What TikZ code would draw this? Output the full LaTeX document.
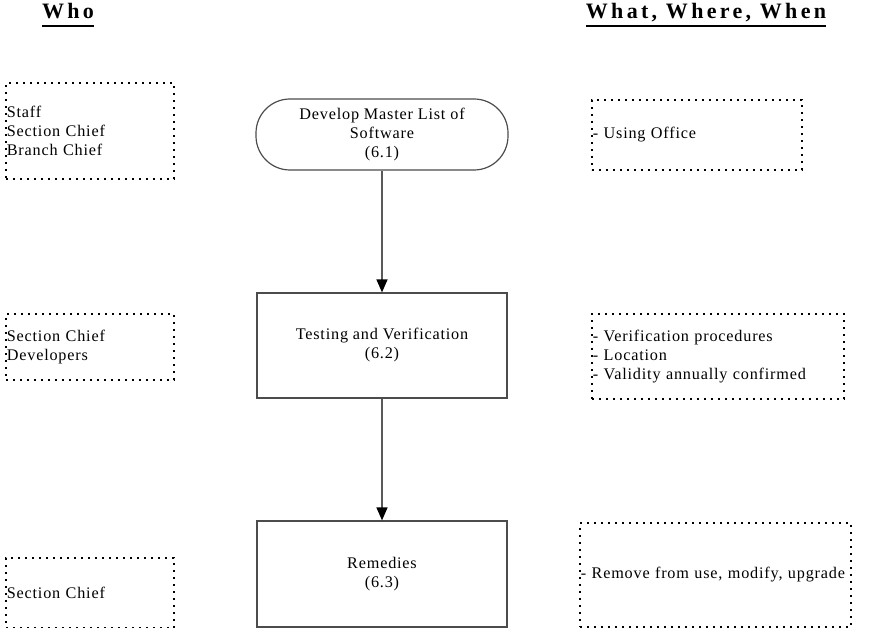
\documentclass[tikz,border=0pt]{standalone}
\usepackage{fontspec}
\setmainfont{Liberation Serif}[LetterSpace=5]
\newfontfamily\hdrfont{Liberation Serif}[LetterSpace=15]
\usetikzlibrary{arrows.meta}
\tikzset{>={Triangle[width=11pt, length=13pt, color=black]}}
\tikzset{
    hdr/.style={font=\hdrfont\bfseries\fontsize{22pt}{26pt}\selectfont, inner sep=0pt, anchor=base},
    dotbox/.style={draw, line width=1.7pt, dash pattern=on 1.7pt off 5.3pt,
        anchor=north west, inner xsep=1pt, inner ysep=0pt, align=left},
    proc/.style={draw=black!70, line width=1.2pt, align=center, inner sep=0pt},
    flow/.style={draw=black!65, line width=1.3pt, ->},
}

\begin{document}
\begin{tikzpicture}[x=1pt, y=-1pt, font=\fontsize{16.2pt}{19pt}\selectfont]
    \useasboundingbox(0, 0)rectangle(877, 628);
    \node[hdr](who)at(68, 19){Who};
    \node[hdr](what)at(706, 19){What, Where, When};
    \draw[line width=1.3pt]([yshift=-7pt]who.base west)--([yshift=-7pt]who.base east);
    \draw[line width=1.3pt]([yshift=-7pt]what.base west)--([yshift=-7pt]what.base east);
    % who
    \node[dotbox, text width=166pt, minimum height=96pt](who1)at(5, 82){Staff\\Section Chief\\Branch Chief};
    \node[dotbox, text width=166pt, minimum height=66pt](who2)at(5, 313){Section Chief\\Developers};
    \node[dotbox, text width=166pt, minimum height=70pt](who3)at(5, 557){Section Chief};
    % steps
    \node[proc, rounded corners=34pt, minimum width=252pt, minimum height=71pt](dev)at(382, 134.5)
        {Develop Master List of\\Software\\(6.1)};
    \node[proc, minimum width=250pt, minimum height=105pt](test)at(382, 345.5){Testing and Verification\\(6.2)};
    \node[proc, minimum width=250pt, minimum height=106pt](rem)at(382, 574){Remedies\\(6.3)};
    \draw[flow](dev)--(test);
    \draw[flow](test)--(rem);
    % what, where, when
    \node[dotbox, text width=208pt, minimum height=70pt](what1)at(591, 99){- Using Office};
    \node[dotbox, text width=250pt, minimum height=85pt](what2)at(591, 313)
        {- Verification procedures\\- Location\\- Validity annually confirmed};
    \node[dotbox, text width=269pt, minimum height=104pt](what3)at(579, 522){- Remove from use, modify, upgrade};
\end{tikzpicture}
\end{document}
